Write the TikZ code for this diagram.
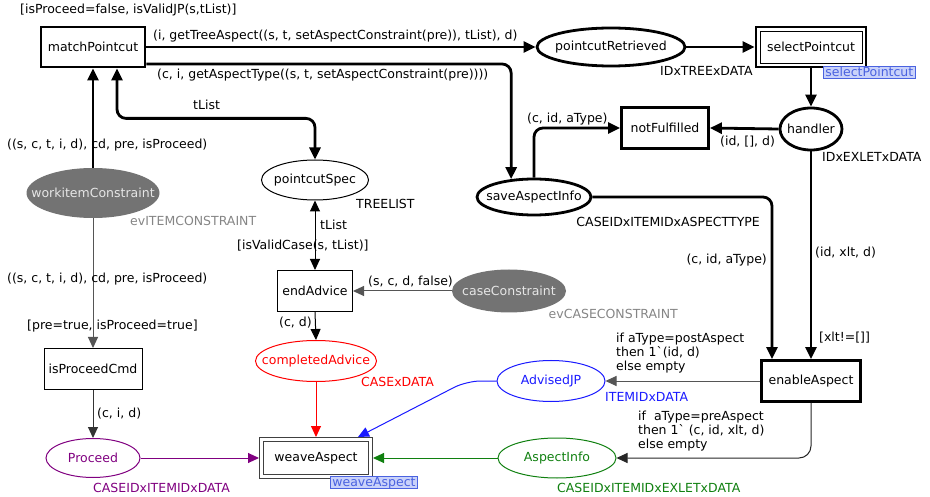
\documentclass[tikz,border=0pt]{standalone}
\usepackage{fontspec}
\setmainfont{DejaVu Sans}
\usetikzlibrary{arrows.meta,shapes.geometric,calc}

\definecolor{netpurple}{HTML}{800080}
\definecolor{netblue}{HTML}{1A1AFF}
\definecolor{netred}{HTML}{FF0000}
\definecolor{netgreen}{HTML}{108010}
\definecolor{constfill}{HTML}{737373}
\definecolor{consttext}{HTML}{E6E6E6}
\definecolor{sortgray}{HTML}{858585}
\definecolor{arcgray}{HTML}{555555}
\definecolor{tagfill}{HTML}{C9D2FA}
\definecolor{tagline}{HTML}{4A62E0}

% place names take no room, so each ellipse keeps its given size
\newcommand\pname[1]{\makebox[0pt]{#1}}

\begin{document}
\begin{tikzpicture}[x=1pt,y=-1pt,
  font=\fontsize{12.5}{14.5}\selectfont,
  >={Triangle[length=11pt,width=10pt]},
  heavy/.style={line width=2.8pt,>={Triangle[length=12pt,width=11pt]}},
  light/.style={line width=1pt},
  trans/.style={draw,rectangle,inner sep=0pt,minimum height=40pt},
  place/.style={draw,ellipse,inner sep=0pt},
  constraint/.style={ellipse,inner sep=0pt,fill=constfill,text=consttext},
  inset/.style={path picture={\draw[line width=0.9pt]
      ([shift={(#1,-#1)}]path picture bounding box.north west) rectangle
      ([shift={(-#1,#1)}]path picture bounding box.south east);}},
  lbl/.style={inner sep=0pt,anchor=west,text height=9pt,text depth=2.5pt},
  multi/.style={inner sep=0pt,anchor=north west,align=left,
      font=\fontsize{12.5}{14}\selectfont},
  sortlbl/.style={lbl,text=sortgray},
  tag/.style={draw=tagline,fill=tagfill,text=tagline,inner xsep=2pt,inner ysep=1pt,
      text height=9pt,text depth=1pt,anchor=north west,line width=0.8pt},
  arc/.style={->,heavy,rounded corners=9pt},
  thinarc/.style={->,light,draw=arcgray,rounded corners=12pt},
  colarc/.style={light,draw=#1,-{Triangle[length=11pt,width=10pt,fill=#1]}}
]
\useasboundingbox (0,0) rectangle (930,497);

% transitions
\node[trans,heavy,minimum width=104pt] (mp) at (93,47) {matchPointcut};
\node[trans,heavy,inset=4pt,minimum width=110pt] (sp) at (811,47) {selectPointcut};
\node[trans,heavy,minimum width=87pt,minimum height=41pt] (nf) at (665,128) {notFulfilled};
\node[trans,heavy,minimum width=99pt,minimum height=41pt] (ea) at (811,381) {enableAspect};
\node[trans,light,minimum width=75pt,minimum height=41pt] (adv) at (315,291) {endAdvice};
\node[trans,light,minimum width=98pt,minimum height=41pt] (ipc) at (93,369) {isProceedCmd};
\node[trans,light,draw=black!75,inset=4pt,minimum width=113pt,minimum height=41pt] (wa) at (316,458) {weaveAspect};

% places
\node[place,heavy,minimum width=148pt,minimum height=38pt] (pr) at (611,47) {\pname{pointcutRetrieved}};
\node[place,heavy,minimum width=62pt,minimum height=42pt] (hd) at (811,129) {\pname{handler}};
\node[place,heavy,minimum width=114pt,minimum height=36pt] (sai) at (534,197) {\pname{saveAspectInfo}};
\node[place,light,minimum width=107pt,minimum height=40pt] (pcs) at (315,180) {\pname{pointcutSpec}};
\node[constraint,minimum width=133pt,minimum height=50pt] (wic) at (93,193) {\pname{workitemConstraint}};
\node[constraint,minimum width=114pt,minimum height=43pt] (cc) at (509,291) {\pname{caseConstraint}};
\node[place,light,draw=netred,text=netred,minimum width=121pt,minimum height=41pt] (ca) at (316,361) {\pname{completedAdvice}};
\node[place,light,draw=netpurple,text=netpurple,minimum width=94pt,minimum height=39pt] (pro) at (93,458) {\pname{Proceed}};
\node[place,light,draw=netblue,text=netblue,minimum width=108pt,minimum height=41pt] (aj) at (551,381) {\pname{AdvisedJP}};
\node[place,light,draw=netgreen,text=netgreen,minimum width=118pt,minimum height=40pt] (ai) at (557,458) {\pname{AspectInfo}};

% fusion / substitution tags
\node[tag] (spTag) at (823,66) {selectPointcut};
\node[tag] (waTag) at (330,476) {weaveAspect};

% heavy arcs
\draw[arc] (mp.east |- pr.west) -- (pr.west);
\draw[arc] ([yshift=-17pt]mp.east) -| (sai.142);
\draw[arc,<->] ([xshift=24pt]mp.south) -- ++(0,50) -| (pcs.north);
\draw[arc] (wic.north) -- (mp.south);
\draw[arc] (pr.east) -- (sp.west);
\draw[arc] (sp.south) -- (hd.north);
\draw[arc] (hd.west) -- (nf.east);
\draw[arc] (sai.north) |- (nf.west);
\draw[arc] (sai.east) -| ([xshift=-39pt]ea.north);
\draw[arc] (hd.south) -- (ea.north);

% light arcs
\draw[thinarc] (wic.south) -- (ipc.north);
\draw[thinarc,draw=black!80] (ipc.south) -- (pro.north);
\draw[light,<->] (pcs.south) -- (adv.north);
\draw[thinarc] (cc.west) -- (adv.east);
\draw[->,light] (adv.south) -- (ca.north);
\draw[colarc=netred] (ca.south) -- (wa.north);
\draw[colarc=netpurple] (pro.east) -- (wa.west);
\draw[colarc=netblue,rounded corners=14pt] (aj.west) -- ++(-30,0) -- ([xshift=42pt]wa.north);
\draw[colarc=netgreen] (ai.west) -- (wa.east);
\draw[thinarc] (ea.west) -- (aj.east);
\draw[thinarc,draw=black!85] (ea.south) |- (ai.east);

% inscriptions
\node[lbl] at (20,10) {[isProceed=false, isValidJP(s,tList)]};
\node[lbl] at (153,36) {(i, getTreeAspect((s, t, setAspectConstraint(pre)), tList), d)};
\node[lbl] at (157,75) {(c, i, getAspectType((s, t, setAspectConstraint(pre))))};
\node[lbl] at (193,106) {tList};
\node[lbl] at (7,145) {((s, c, t, i, d), cd, pre, isProceed)};
\node[lbl] at (7,279) {((s, c, t, i, d), cd, pre, isProceed)};
\node[lbl] at (27,326) {[pre=true, isProceed=true]};
\node[lbl] at (97,414) {(c, i, d)};
\node[lbl] at (320,226) {tList};
\node[lbl] at (237,246) {[isValidCase(s, tList)]};
\node[lbl] at (368,282) {(s, c, d, false)};
\node[lbl] at (279,323) {(c, d)};
\node[lbl] at (527,119) {(c, id, aType)};
\node[lbl] at (720,142) {(id, [], d)};
\node[lbl,anchor=east] at (767,260) {(c, id, aType)};
\node[lbl] at (815,253) {(id, xlt, d)};
\node[lbl] at (819,338) {[xlt!=[]]};
\node[multi] at (616,333)
  {if aType=postAspect\\then 1\textasciigrave(id, d)\\else empty};
\node[multi] at (638,411)
  {if\ \ aType=preAspect\\then 1\textasciigrave\ (c, id, xlt, d)\\else empty};

% colour sets
\node[lbl] at (660,72) {IDxTREExDATA};
\node[lbl] at (822,158) {IDxEXLETxDATA};
\node[lbl,anchor=east] at (760,223) {CASEIDxITEMIDxASPECTTYPE};
\node[lbl] at (356,205) {TREELIST};
\node[sortlbl] at (130,222) {evITEMCONSTRAINT};
\node[sortlbl,anchor=east] at (678,315) {evCASECONSTRAINT};
\node[lbl,text=netred] at (361,383) {CASExDATA};
\node[lbl,text=netblue] at (605,398) {ITEMIDxDATA};
\node[lbl,text=netpurple] at (93,489) {CASEIDxITEMIDxDATA};
\node[lbl,text=netgreen] at (557,489) {CASEIDxITEMIDxEXLETxDATA};
\end{tikzpicture}
\end{document}
